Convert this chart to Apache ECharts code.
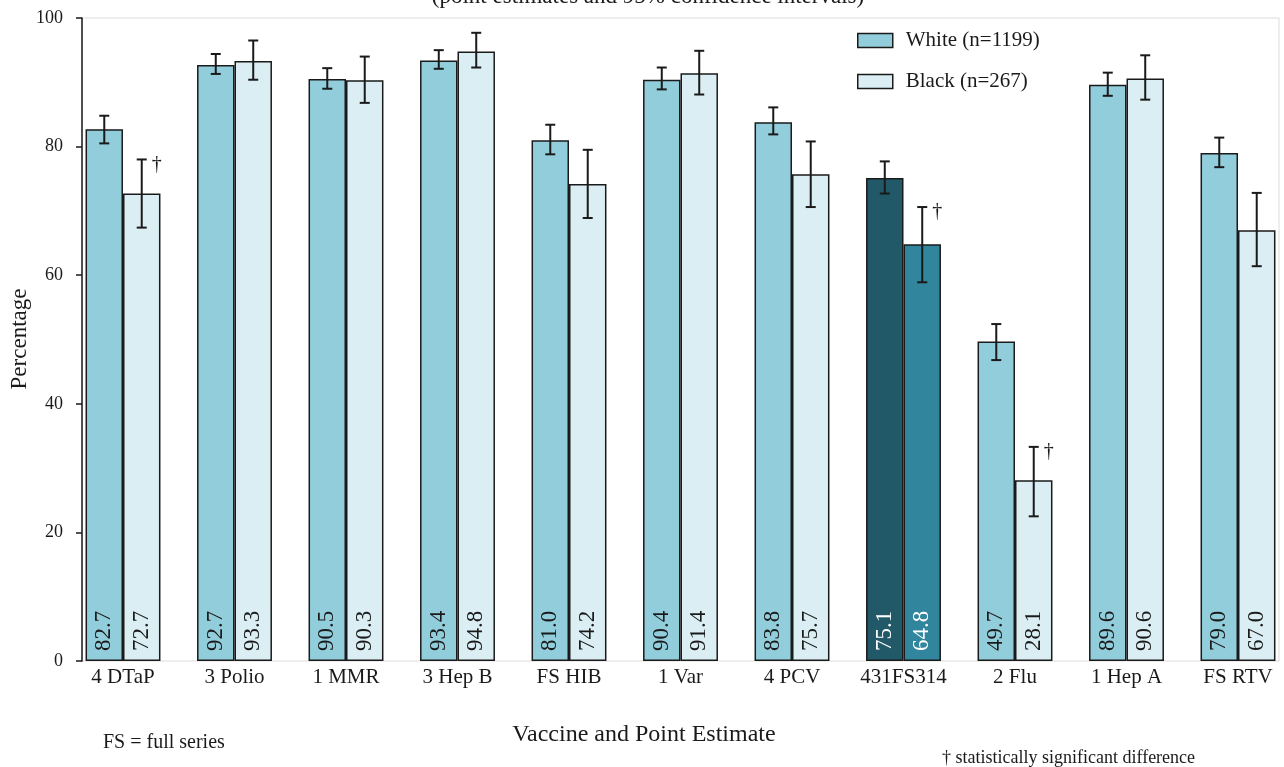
<!DOCTYPE html>
<html>
<head>
<meta charset="utf-8">
<script src="https://cdn.jsdelivr.net/npm/echarts@6/dist/echarts.min.js"></script>
<style>
  html, body { margin: 0; padding: 0; background: #ffffff; }
  #chart { width: 1284px; height: 767px; }
</style>
</head>
<body>
<div id="chart"></div>
<script>
// Vaccination coverage by race: point estimates with 95% confidence intervals
const categories = ['4 DTaP', '3 Polio', '1 MMR', '3 Hep B', 'FS HIB', '1 Var', '4 PCV', '431FS314', '2 Flu', '1 Hep A', 'FS RTV'];
const yTicks = [0, 20, 40, 60, 80, 100];

const whiteValues = [82.7, 92.7, 90.5, 93.4, 81.0, 90.4, 83.8, 75.1, 49.7, 89.6, 79.0];
const blackValues = [72.7, 93.3, 90.3, 94.8, 74.2, 91.4, 75.7, 64.8, 28.1, 90.6, 67.0];

const whiteLow  = [80.5, 91.3, 89.0, 92.1, 78.8, 88.9, 81.9, 72.7, 46.8, 87.9, 76.8];
const whiteHigh = [84.8, 94.4, 92.2, 95.0, 83.4, 92.3, 86.1, 77.7, 52.4, 91.5, 81.4];
const blackLow  = [67.4, 90.4, 86.8, 92.3, 68.9, 88.1, 70.6, 58.9, 22.5, 87.3, 61.4];
const blackHigh = [78.0, 96.5, 94.0, 97.7, 79.5, 94.9, 80.8, 70.6, 33.3, 94.2, 72.8];

// categories where the difference between groups is statistically significant
const significant = [true, false, false, false, false, false, false, true, true, false, false];
const highlightCategory = '431FS314';

const FONT = '"Liberation Serif", "DejaVu Serif", serif';
const INK = '#1a1a1a';
const WHITE_FILL = '#92cddc';
const BLACK_FILL = '#daeef3';
const HL_WHITE_FILL = '#215968';
const HL_BLACK_FILL = '#31859c';

function barData(values, highlightFill) {
  return values.map((v, i) => {
    if (categories[i] === highlightCategory) {
      return { value: v, itemStyle: { color: highlightFill }, label: { color: '#ffffff' } };
    }
    return v;
  });
}

const BAR_FRACTION = 0.336;

function errorBars(side, flagDagger) {
  return function (params, api) {
    const i = api.value(0);
    const lo = api.value(1);
    const hi = api.value(2);
    const band = api.size([1, 0])[0];
    const off = side * band * BAR_FRACTION / 2;
    const top = api.coord([i, hi]);
    const bot = api.coord([i, lo]);
    const x = top[0] + off;
    const cap = 5;
    const style = { stroke: INK, lineWidth: 2 };
    const children = [
      { type: 'line', shape: { x1: x, y1: top[1], x2: x, y2: bot[1] }, style: style },
      { type: 'line', shape: { x1: x - cap, y1: top[1], x2: x + cap, y2: top[1] }, style: style },
      { type: 'line', shape: { x1: x - cap, y1: bot[1], x2: x + cap, y2: bot[1] }, style: style }
    ];
    if (flagDagger && significant[params.dataIndex]) {
      children.push({
        type: 'text',
        style: {
          x: x + 15, y: top[1] + 5, text: '†',
          fill: INK, font: '20px ' + FONT,
          textAlign: 'center', textVerticalAlign: 'middle'
        }
      });
    }
    return { type: 'group', children: children };
  };
}

const labelStyle = {
  show: true,
  position: 'insideBottom',
  rotate: 90,
  align: 'left',
  verticalAlign: 'middle',
  distance: 10,
  fontFamily: FONT,
  fontSize: 23,
  color: INK,
  formatter: p => Number(p.value).toFixed(1)
};

const chart = echarts.init(document.getElementById('chart'), null, { renderer: 'canvas' });

chart.setOption({
  animation: false,
  backgroundColor: '#ffffff',
  textStyle: { fontFamily: FONT, color: INK },
  grid: [
    {
      left: 82, top: 18, width: 1197, height: 643,
      containLabel: false, outerBoundsMode: 'none',
      show: true, borderColor: '#dcdcdc', borderWidth: 1, backgroundColor: 'transparent'
    },
    {
      left: 67.25, top: 18, width: 1226.5, height: 643,
      containLabel: false, outerBoundsMode: 'none'
    }
  ],
  legend: {
    orient: 'vertical',
    left: 857,
    top: 30,
    padding: 0,
    itemWidth: 35,
    itemHeight: 14,
    itemGap: 20,
    icon: 'rect',
    data: ['White (n=1199)', 'Black (n=267)'],
    itemStyle: { borderColor: INK, borderWidth: 1.5 },
    textStyle: { fontFamily: FONT, fontSize: 21, color: INK, lineHeight: 20, padding: [0, 0, 0, 8] }
  },
  xAxis: [
    { gridIndex: 0, type: 'value', min: 0, max: 1, show: false },
    {
      gridIndex: 1,
      type: 'category',
      data: categories,
      axisLine: { show: false },
      axisTick: { show: false },
      axisLabel: { fontFamily: FONT, fontSize: 21, color: INK, margin: 6, interval: 0 }
    }
  ],
  yAxis: [
    {
      gridIndex: 0,
      type: 'value',
      min: yTicks[0],
      max: yTicks[yTicks.length - 1],
      interval: yTicks[1] - yTicks[0],
      axisLine: { show: true, lineStyle: { color: INK, width: 1.5 } },
      axisTick: { show: true, length: 6, lineStyle: { color: INK, width: 1.5 } },
      axisLabel: { fontFamily: FONT, fontSize: 18, color: INK, margin: 19 },
      splitLine: { show: false }
    },
    { gridIndex: 1, type: 'value', min: 0, max: 100, show: false }
  ],
  series: [
    {
      name: 'White (n=1199)',
      type: 'bar',
      xAxisIndex: 1,
      yAxisIndex: 1,
      barWidth: (BAR_FRACTION * 100) + '%',
      barGap: '0%',
      data: barData(whiteValues, HL_WHITE_FILL),
      itemStyle: { color: WHITE_FILL, borderColor: INK, borderWidth: 1.5 },
      label: labelStyle
    },
    {
      name: 'Black (n=267)',
      type: 'bar',
      xAxisIndex: 1,
      yAxisIndex: 1,
      barWidth: (BAR_FRACTION * 100) + '%',
      barGap: '0%',
      data: barData(blackValues, HL_BLACK_FILL),
      itemStyle: { color: BLACK_FILL, borderColor: INK, borderWidth: 1.5 },
      label: labelStyle
    },
    {
      name: 'White CI',
      type: 'custom',
      xAxisIndex: 1,
      yAxisIndex: 1,
      z: 5,
      renderItem: errorBars(-1, false),
      data: categories.map((c, i) => [i, whiteLow[i], whiteHigh[i]])
    },
    {
      name: 'Black CI',
      type: 'custom',
      xAxisIndex: 1,
      yAxisIndex: 1,
      z: 5,
      renderItem: errorBars(1, true),
      data: categories.map((c, i) => [i, blackLow[i], blackHigh[i]])
    }
  ],
  graphic: [
    {
      type: 'text', x: 648, y: -3,
      style: { text: '(point estimates and 95% confidence intervals)', font: '23px ' + FONT, fill: INK, textAlign: 'center', textVerticalAlign: 'middle' }
    },
    {
      type: 'text', x: 20, y: 339, rotation: Math.PI / 2,
      style: { text: 'Percentage', font: '23px ' + FONT, fill: INK, textAlign: 'center', textVerticalAlign: 'middle' }
    },
    {
      type: 'text', x: 644, y: 735,
      style: { text: 'Vaccine and Point Estimate', font: '24px ' + FONT, fill: INK, textAlign: 'center', textVerticalAlign: 'middle' }
    },
    {
      type: 'text', x: 103, y: 743,
      style: { text: 'FS = full series', font: '20px ' + FONT, fill: INK, textAlign: 'left', textVerticalAlign: 'middle' }
    },
    {
      type: 'text', x: 942, y: 758,
      style: { text: '† statistically significant difference', font: '18px ' + FONT, fill: INK, textAlign: 'left', textVerticalAlign: 'middle' }
    }
  ]
});
</script>
</body>
</html>
